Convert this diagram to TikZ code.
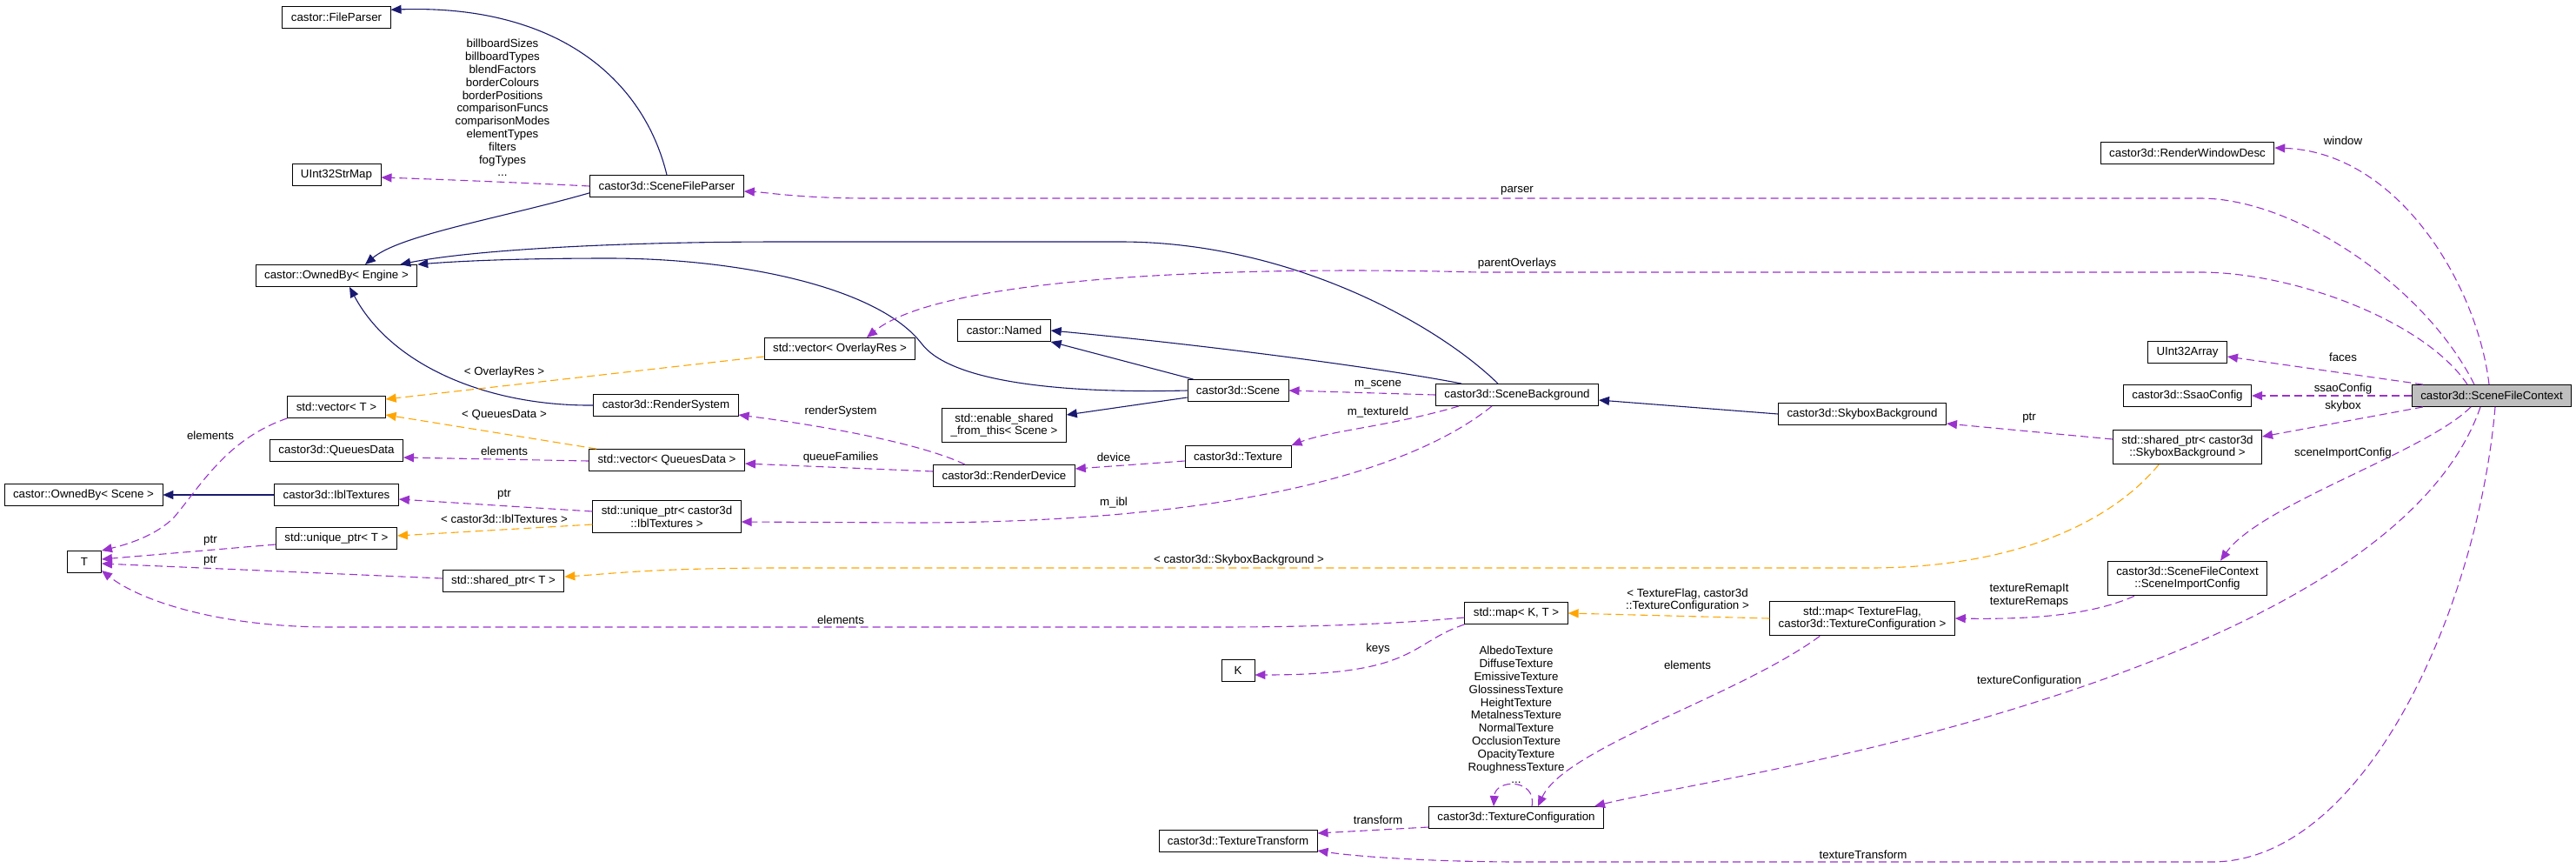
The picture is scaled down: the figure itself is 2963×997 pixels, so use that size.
\documentclass[tikz,border=0pt]{standalone}
\usepackage{fontspec}
\setmainfont{Liberation Sans}
\usetikzlibrary{arrows.meta}
\definecolor{inhblue}{HTML}{191970}
\definecolor{usepurple}{HTML}{9A32CD}
\definecolor{tplorange}{HTML}{FFA500}
\definecolor{focusgray}{HTML}{BFBFBF}
\begin{document}
\begin{tikzpicture}[x=1pt, y=-1pt,
  cls/.style={draw=black, fill=white, line width=0.9pt, font=\fontsize{13.3}{14.8}\selectfont, align=center, inner xsep=10pt, inner ysep=6.3pt, minimum height=25pt},
  lbl/.style={font=\fontsize{13.3}{14.8}\selectfont, align=center, inner sep=0pt},
  inhline/.style={draw=inhblue, line width=1.1pt, -{Triangle[length=12pt,width=10pt]}},
  useline/.style={draw=usepurple, line width=1.1pt, dash pattern=on 9pt off 5pt, -{Triangle[length=12pt,width=10pt]}},
  tplline/.style={draw=tplorange, line width=1.1pt, dash pattern=on 9pt off 5pt, -{Triangle[length=12pt,width=10pt]}}]
\useasboundingbox (0,0) rectangle (2963,997);

% classes
\node[cls] (fileparser) at (387,20) {castor::FileParser};
\node[cls] (strmap) at (387,201) {UInt32StrMap};
\node[cls] (sfparser) at (767,214) {castor3d::SceneFileParser};
\node[cls] (oeng) at (387,317) {castor::OwnedBy< Engine >};
\node[cls] (vt) at (387,468) {std::vector< T >};
\node[cls] (qdata) at (387,518) {castor3d::QueuesData};
\node[cls] (oscene) at (96,569) {castor::OwnedBy< Scene >};
\node[cls] (ibl) at (387,569) {castor3d::IblTextures};
\node[cls] (ut) at (387,619) {std::unique\_ptr< T >};
\node[cls, minimum width=39pt] (tnode) at (97,646) {T};
\node[cls] (rsys) at (766,466) {castor3d::RenderSystem};
\node[cls] (vqd) at (767,529) {std::vector< QueuesData >};
\node[cls] (uibl) at (767,594) {std::unique\_ptr< castor3d\\::IblTextures >};
\node[cls] (st) at (579,668) {std::shared\_ptr< T >};
\node[cls] (named) at (1155,380) {castor::Named};
\node[cls] (vovr) at (966,401) {std::vector< OverlayRes >};
\node[cls] (scene) at (1424,449) {castor3d::Scene};
\node[cls] (sbg) at (1745,454) {castor3d::SceneBackground};
\node[cls] (esft) at (1155,489) {std::enable\_shared\\\_from\_this< Scene >};
\node[cls] (texture) at (1424,525) {castor3d::Texture};
\node[cls] (rdev) at (1155,547) {castor3d::RenderDevice};
\node[cls] (mkt) at (1744,705) {std::map< K, T >};
\node[cls, minimum width=38pt] (knode) at (1424,771) {K};
\node[cls] (tcfg) at (1744,940) {castor3d::TextureConfiguration};
\node[cls] (ttr) at (1424,967) {castor3d::TextureTransform};
\node[cls] (rwd) at (2516,176) {castor3d::RenderWindowDesc};
\node[cls] (uia) at (2516,405) {UInt32Array};
\node[cls] (ssao) at (2516,455) {castor3d::SsaoConfig};
\node[cls, fill=focusgray] (sfc) at (2866,455) {castor3d::SceneFileContext};
\node[cls] (sky) at (2142,476) {castor3d::SkyboxBackground};
\node[cls] (shpsky) at (2516,514) {std::shared\_ptr< castor3d\\::SkyboxBackground >};
\node[cls] (sic) at (2516,665) {castor3d::SceneFileContext\\::SceneImportConfig};
\node[cls] (mtf) at (2142,711) {std::map< TextureFlag,\\castor3d::TextureConfiguration >};

% inheritance
\draw[inhline] (sfparser.north) .. controls (740,90) and (640,5) .. (fileparser.8);
\draw[inhline] (sfparser.185) .. controls (580,250) and (460,270) .. ([xshift=33pt]oeng.north);
\draw[inhline] ([xshift=-22pt]sbg.north) .. controls (1650,370) and (1480,278) .. (1289,278) -- (900,278) .. controls (700,278) and (540,288) .. ([xshift=-20pt]oeng.north east);
\draw[inhline] (scene.west) .. controls (1200,453) and (1090,435) .. (1060,395) .. controls (1010,330) and (850,297) .. (700,297) .. controls (600,297) and (530,300) .. (oeng.north east);
\draw[inhline] (rsys.west) .. controls (560,467) and (450,420) .. ([xshift=15pt]oeng.south);
\draw[inhline] (ibl.west) -- (oscene.east);
\draw[inhline] ([xshift=7pt]scene.north west) -- (named.south east);
\draw[inhline] ([xshift=30pt]sbg.north west) .. controls (1600,425) and (1400,398) .. (named.east);
\draw[inhline] ([yshift=-8pt]scene.west) -- ([yshift=12pt]esft.east);
\draw[inhline] (sky.west) -- ([yshift=-6pt]sbg.east);

% usage
\draw[useline] ([xshift=-3pt]sfc.north) .. controls (2850,330) and (2760,175) .. ([yshift=6pt]rwd.east);
\draw[useline] ([xshift=-20pt]sfc.north) .. controls (2790,330) and (2640,228) .. (2531,228) -- (1000,228) .. controls (920,228) and (880,221) .. ([yshift=-6pt]sfparser.east);
\draw[useline] ([xshift=-28pt]sfc.north) .. controls (2790,370) and (2640,313) .. (2531,313) -- (1700,313) .. controls (1400,305) and (1080,320) .. ([xshift=31pt]vovr.north);
\draw[useline] ([xshift=13pt]sfc.north west) -- ([yshift=-5pt]uia.east);
\draw[useline] (sfc.west) -- (ssao.east);
\draw[useline] ([xshift=13pt]sfc.south west) -- ([yshift=12pt]shpsky.east);
\draw[useline] ([xshift=-24pt]sfc.south) .. controls (2790,520) and (2600,580) .. ([xshift=38pt]sic.north);
\draw[useline] ([xshift=-13pt]sfc.south) .. controls (2790,650) and (2500,760) .. (2300,820) .. controls (2100,880) and (1900,910) .. ([xshift=-11pt]tcfg.north east);
\draw[useline] ([xshift=4pt]sfc.south) .. controls (2850,700) and (2720,991) .. (2544,991) -- (1750,991) .. controls (1650,991) and (1560,985) .. ([yshift=-11pt]ttr.east);
\draw[useline] ([yshift=9pt]shpsky.west) -- ([yshift=-11pt]sky.east);
\draw[useline] ([xshift=31pt]sic.south west) .. controls (2400,710) and (2320,712) .. (mtf.east);
\draw[useline] ([xshift=58pt]mtf.south west) .. controls (2000,800) and (1800,860) .. ([xshift=25pt]tcfg.north);
\draw[useline] ([xshift=18pt]tcfg.north) .. controls (1768,895) and (1720,895) .. ([xshift=-26pt]tcfg.north);
\draw[useline] ([yshift=-5pt]mkt.west) .. controls (1600,718) and (1500,721) .. (1400,721) -- (380,721) .. controls (250,721) and (160,690) .. ([yshift=3pt]tnode.south east);
\draw[useline] (mkt.south west) .. controls (1620,740) and (1630,776) .. ([yshift=-5pt]knode.east);
\draw[useline] ([yshift=-11pt]tcfg.west) -- ([yshift=9pt]ttr.east);
\draw[useline] (sbg.west) -- (scene.east);
\draw[useline] ([xshift=27pt]sbg.south west) .. controls (1600,490) and (1530,495) .. (texture.north east);
\draw[useline] ([xshift=-29pt]sbg.south) .. controls (1600,560) and (1350,601) .. (1050,601) -- ([yshift=-6pt]uibl.east);
\draw[useline] ([yshift=-5pt]texture.west) -- ([yshift=8pt]rdev.east);
\draw[useline] ([xshift=-45pt]rdev.north) .. controls (1060,510) and (950,490) .. ([yshift=-11pt]rsys.east);
\draw[useline] ([yshift=5pt]rdev.west) -- ([yshift=-4pt]vqd.east);
\draw[useline] ([yshift=-1pt]vqd.west) -- ([yshift=-8pt]qdata.east);
\draw[useline] ([yshift=6pt]uibl.west) -- ([yshift=-5pt]ibl.east);
\draw[useline] (vt.south west) .. controls (260,505) and (230,560) .. (200,595) .. controls (180,615) and (150,625) .. (tnode.north east);
\draw[useline] ([yshift=-7pt]ut.west) -- ([yshift=3pt]tnode.east);
\draw[useline] ([yshift=3pt]st.west) -- ([yshift=-2pt]tnode.east);
\draw[useline] (sfparser.west) .. controls (600,210) and (500,206) .. ([yshift=-3pt]strmap.east);

% templates
\draw[tplline] ([yshift=-9pt]vovr.west) -- ([yshift=9pt]vt.east);
\draw[tplline] ([xshift=9pt]vqd.north west) -- ([yshift=-9pt]vt.east);
\draw[tplline] ([yshift=-9pt]uibl.west) -- ([yshift=3pt]ut.east);
\draw[tplline] ([xshift=-33pt]shpsky.south) .. controls (2420,610) and (2300,653) .. (2150,653) -- (900,653) .. controls (750,653) and (700,660) .. ([yshift=5pt]st.east);
\draw[tplline] (mtf.west) -- (mkt.east);

% labels
\node[lbl] (lmaps) at (578,124) {billboardSizes\\billboardTypes\\blendFactors\\borderColours\\borderPositions\\comparisonFuncs\\comparisonModes\\elementTypes\\filters\\fogTypes\\...};
\node[lbl] (lparser) at (1745,219) {parser};
\node[lbl] (loverlays) at (1745,303) {parentOverlays};
\node[lbl] (lwindow) at (2695,162) {window};
\node[lbl] (lfaces) at (2695,411) {faces};
\node[lbl] (lssao) at (2695,447) {ssaoConfig};
\node[lbl] (lskybox) at (2695,467) {skybox};
\node[lbl] (limport) at (2695,521) {sceneImportConfig};
\node[lbl] (lskyptr) at (2334,481) {ptr};
\node[lbl] (lremaps) at (2334,685) {textureRemapIt\\textureRemaps};
\node[lbl] (lmaptpl) at (1941,690) {< TextureFlag, castor3d\\::TextureConfiguration >};
\node[lbl] (lcfgelems) at (1941,765) {elements};
\node[lbl] (ltexcfg) at (2334,783) {textureConfiguration};
\node[lbl] (ltextr) at (2143,983) {textureTransform};
\node[lbl] (lskytpl) at (1425,644) {< castor3d::SkyboxBackground >};
\node[lbl] (lscene) at (1585,442) {m\_scene};
\node[lbl] (ltexid) at (1585,474) {m\_textureId};
\node[lbl] (lrsys) at (967,473) {renderSystem};
\node[lbl] (lqueues) at (967,526) {queueFamilies};
\node[lbl] (ldevice) at (1281,526) {device};
\node[lbl] (libl) at (1281,578) {m\_ibl};
\node[lbl] (lovrtpl) at (580,428) {< OverlayRes >};
\node[lbl] (lqdtpl) at (580,477) {< QueuesData >};
\node[lbl] (lqdelems) at (580,519) {elements};
\node[lbl] (liblptr) at (580,569) {ptr};
\node[lbl] (libltpl) at (580,597) {< castor3d::IblTextures >};
\node[lbl] (lvtelems) at (242,501) {elements};
\node[lbl] (lutptr) at (242,622) {ptr};
\node[lbl] (lstptr) at (242,645) {ptr};
\node[lbl] (lmapelems) at (967,713) {elements};
\node[lbl] (lkeys) at (1585,746) {keys};
\node[lbl] (lflags) at (1744,822) {AlbedoTexture\\DiffuseTexture\\EmissiveTexture\\GlossinessTexture\\HeightTexture\\MetalnessTexture\\NormalTexture\\OcclusionTexture\\OpacityTexture\\RoughnessTexture\\...};
\node[lbl] (ltransform) at (1585,943) {transform};
\end{tikzpicture}
\end{document}
